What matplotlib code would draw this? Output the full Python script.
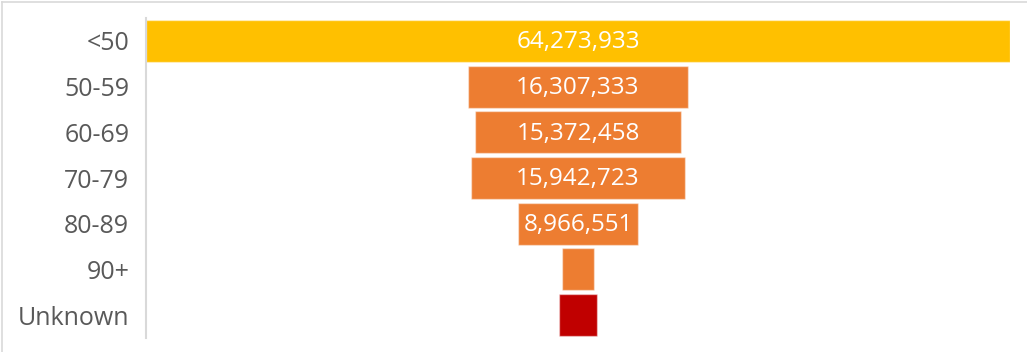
import matplotlib
matplotlib.use("Agg")
import matplotlib.pyplot as plt
from matplotlib.lines import Line2D

categories = ["<50", "50-59", "60-69", "70-79", "80-89", "90+", "Unknown"]
values = [64273933, 16307333, 15372458, 15942723, 8966551, 2330000, 2900000]
labels = ["64,273,933", "16,307,333", "15,372,458", "15,942,723", "8,966,551", "", ""]
colors = ["#FFC000", "#ED7D31", "#ED7D31", "#ED7D31", "#ED7D31", "#ED7D31", "#C00000"]

plt.rcParams["font.family"] = ["Open Sans", "DejaVu Sans"]

W, H = 1027, 352
fig = plt.figure(figsize=(W / 100, H / 100), dpi=100)
fig.patch.set_facecolor("white")

# chart frame
fig.add_artist(Line2D([2 / W, 1], [1 - 2 / H, 1 - 2 / H], color="#d9d9d9", lw=1.2))
fig.add_artist(Line2D([2 / W, 2 / W], [0, 1 - 2 / H], color="#d9d9d9", lw=1.2))

left, right, top, bottom = 146, 1010, 18, 338
ax = fig.add_axes([left / W, 1 - bottom / H, (right - left) / W, (bottom - top) / H])

vmax = max(values)
ypos = list(range(len(categories)))
ax.barh(ypos, values, left=[-v / 2 for v in values], height=0.92, color=colors,
        edgecolor=(1, 1, 1, 0.45), linewidth=1.0)

for y, v, lab in zip(ypos, values, labels):
    if lab:
        ax.text(0, y + 0.03, lab, ha="center", va="center", color="white", fontsize=17.5)

ax.set_xlim(-vmax / 2, vmax / 2)
ax.set_ylim(len(categories) - 0.5, -0.5)
ax.set_yticks(ypos)
ax.set_yticklabels(categories, fontsize=18, color="#595959")
ax.tick_params(axis="y", length=0, pad=12)
ax.set_xticks([])
for s in ["top", "right", "bottom"]:
    ax.spines[s].set_visible(False)
ax.spines["left"].set_color("#d9d9d9")
ax.spines["left"].set_linewidth(1.5)

fig.savefig("out.png", dpi=100, facecolor="white")
